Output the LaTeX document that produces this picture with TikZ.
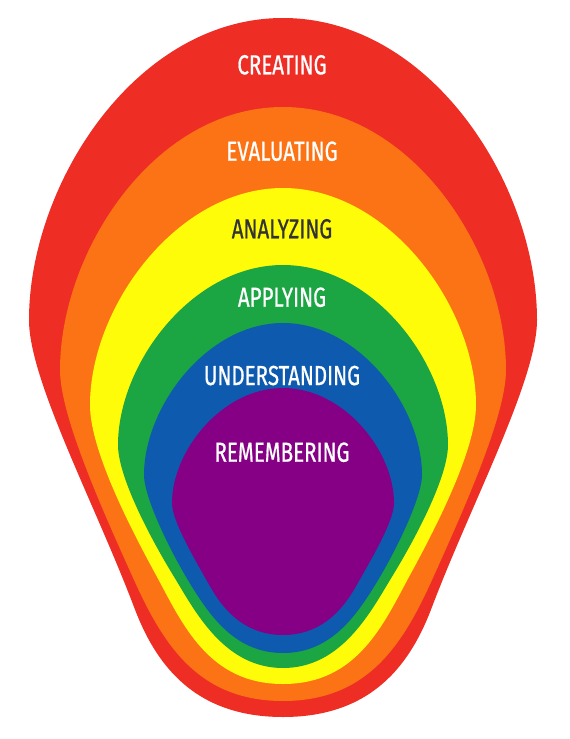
\documentclass[tikz,border=0pt]{standalone}
\usepackage{fontspec}
\setmainfont{Fira Sans}[FakeStretch=0.745, FakeBold=0.7]
\definecolor{cRed}{HTML}{EE2D25}
\definecolor{cOrange}{HTML}{FB7314}
\definecolor{cYellow}{HTML}{FFFC0A}
\definecolor{cGreen}{HTML}{1BA543}
\definecolor{cBlue}{HTML}{0D5AAF}
\definecolor{cPurple}{HTML}{850085}
\definecolor{cDark}{HTML}{333333}
\tikzset{
  lbl/.style={anchor=base, inner sep=0pt, font=\fontsize{27.5}{30}\selectfont},
}
\begin{document}
\begin{tikzpicture}[x=1pt,y=-1pt]
\useasboundingbox (0,0) rectangle (570,739);
% red
\fill[cRed] (283,18) .. controls (430,18) and (537,184) .. (537,320)
  .. controls (537,380) and (471,504) .. (432,607)
  .. controls (411,663) and (373,717) .. (283,717)
  .. controls (193,717) and (155,663) .. (134,607)
  .. controls (95,504) and (29,380) .. (29,320)
  .. controls (29,184) and (136,18) .. (283,18) -- cycle;
% orange
\fill[cOrange] (283,107) .. controls (412,107) and (506,252) .. (506,370)
  .. controls (506,415) and (465,507) .. (432,580)
  .. controls (403,644) and (368,701) .. (283,701)
  .. controls (198,701) and (163,644) .. (134,580)
  .. controls (101,507) and (60,415) .. (60,370)
  .. controls (60,252) and (154,107) .. (283,107) -- cycle;
% yellow
\fill[cYellow] (283,188) .. controls (389,188) and (476,307) .. (476,405)
  .. controls (476,445) and (444,513) .. (410,575)
  .. controls (384,623) and (358,684) .. (283,684)
  .. controls (208,684) and (182,623) .. (156,575)
  .. controls (122,513) and (90,445) .. (90,405)
  .. controls (90,307) and (177,188) .. (283,188) -- cycle;
% green
\fill[cGreen] (283,265) .. controls (374,265) and (448,364) .. (448,445)
  .. controls (448,475) and (419,533) .. (390,580)
  .. controls (369,615) and (340,668) .. (283,668)
  .. controls (226,668) and (197,615) .. (176,580)
  .. controls (147,533) and (118,475) .. (118,445)
  .. controls (118,364) and (192,265) .. (283,265) -- cycle;
% blue
\fill[cBlue] (283,323) .. controls (359,323) and (422,407) .. (422,475)
  .. controls (422,497) and (396,552) .. (372,590)
  .. controls (353,620) and (328,653) .. (283,653)
  .. controls (238,653) and (213,620) .. (194,590)
  .. controls (170,552) and (144,497) .. (144,475)
  .. controls (144,407) and (207,323) .. (283,323) -- cycle;
% purple
\fill[cPurple] (283,388) .. controls (344,388) and (394,451) .. (394,503)
  .. controls (394,521) and (372,558) .. (355,588)
  .. controls (340,614) and (318,635) .. (283,635)
  .. controls (248,635) and (226,614) .. (211,588)
  .. controls (194,558) and (172,521) .. (172,503)
  .. controls (172,451) and (222,388) .. (283,388) -- cycle;
\node[lbl, text=white] (creating) at (282,74.3) {CREATING};
\node[lbl, text=white] (evaluating) at (282,160.7) {EVALUATING};
\node[lbl, text=cDark] (analyzing) at (282,238.3) {ANALYZING};
\node[lbl, text=white] (applying) at (282,306.7) {APPLYING};
\node[lbl, text=white] (understanding) at (282,385) {UNDERSTANDING};
\node[lbl, text=white] (remembering) at (282,461.7) {REMEMBERING};
\end{tikzpicture}
\end{document}
